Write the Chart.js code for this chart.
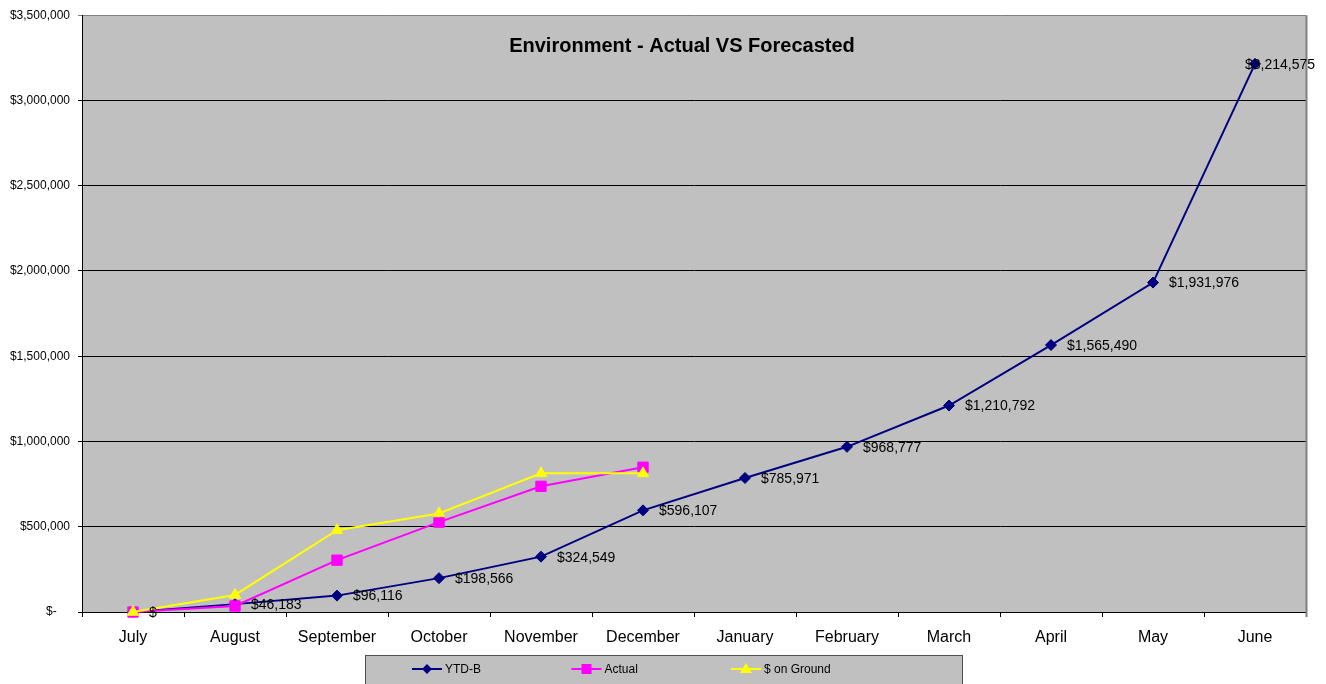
<!DOCTYPE html>
<html>
<head>
<meta charset="utf-8">
<title>Environment - Actual VS Forecasted</title>
<script src="https://cdn.jsdelivr.net/npm/chart.js@4/dist/chart.umd.min.js"></script>
<style>
  html, body { margin: 0; padding: 0; background: #ffffff; }
  #wrap { width: 1326px; height: 684px; position: relative; }
</style>
</head>
<body>
<div id="wrap"><canvas id="chart" width="1326" height="684"></canvas></div>
<script>
// Monthly categories (fiscal year July - June)
const months = ['July', 'August', 'September', 'October', 'November', 'December',
                'January', 'February', 'March', 'April', 'May', 'June'];

// Year-to-date budget (forecast)
const ytdB = [0, 46183, 96116, 198566, 324549, 596107, 785971, 968777,
              1210792, 1565490, 1931976, 3214575];

// Actual spend to date
const actual = [0, 35000, 304000, 527000, 737000, 849000,
                null, null, null, null, null, null];

// Dollars on the ground to date
const onGround = [0, 100000, 480000, 578000, 813000, 813000,
                  null, null, null, null, null, null];

const seriesNames = ['YTD-B', 'Actual', '$ on Ground'];
const yTickMax = 3500000;
const yTickStep = 500000;

const FONT = '"Liberation Sans", Arial, Helvetica, sans-serif';

function money(v) {
  return '$' + Math.round(v).toLocaleString('en-US');
}

// Grey plot background + right-hand frame edge
const plotFrame = {
  id: 'plotFrame',
  beforeDraw(chart) {
    const { ctx, chartArea: a } = chart;
    ctx.save();
    ctx.fillStyle = '#C0C0C0';
    ctx.fillRect(a.left, a.top, a.right - a.left, a.bottom - a.top);
    ctx.restore();
  },
  afterDatasetsDraw(chart) {
    const { ctx, chartArea: a } = chart;
    ctx.save();
    ctx.strokeStyle = '#808080';
    ctx.lineWidth = 2;
    ctx.beginPath();
    ctx.moveTo(a.right + 0.5, a.top);
    ctx.lineTo(a.right + 0.5, a.bottom + 5);
    ctx.stroke();
    ctx.restore();
  }
};

// Chart title sitting inside the plot area
const innerTitle = {
  id: 'innerTitle',
  afterDraw(chart) {
    const { ctx } = chart;
    ctx.save();
    ctx.font = 'bold 20px ' + FONT;
    ctx.fillStyle = '#000';
    ctx.textAlign = 'center';
    ctx.textBaseline = 'middle';
    ctx.fillText('Environment - Actual VS Forecasted', 682, 46);
    ctx.restore();
  }
};

// Value labels to the right of each YTD-B point
const ytdLabels = {
  id: 'ytdLabels',
  afterDatasetsDraw(chart) {
    const { ctx } = chart;
    const meta = chart.getDatasetMeta(0);
    const data = chart.data.datasets[0].data;
    ctx.save();
    ctx.font = '14px ' + FONT;
    ctx.fillStyle = '#000';
    ctx.textBaseline = 'middle';
    ctx.textAlign = 'left';
    meta.data.forEach((pt, i) => {
      const v = data[i];
      if (v == null) return;
      const txt = v === 0 ? '$' : money(v);
      const w = ctx.measureText(txt).width;
      let x = pt.x + 16;
      const maxRight = chart.width - 11;
      if (x + w > maxRight) x = maxRight - w;
      ctx.fillText(txt, x, pt.y + 1);
    });
    ctx.restore();
  }
};

// Framed legend strip below the axis
const boxLegend = {
  id: 'boxLegend',
  afterDraw(chart) {
    const { ctx } = chart;
    const bx = 365, by = 655, bw = 598, bh = 32;
    ctx.save();
    ctx.fillStyle = '#C0C0C0';
    ctx.fillRect(bx, by, bw, bh);
    ctx.strokeStyle = '#505050';
    ctx.lineWidth = 1;
    ctx.strokeRect(bx + 0.5, by + 0.5, bw - 1, bh - 1);
    const cy = 669;
    chart.data.datasets.forEach((ds, i) => {
      const x0 = bx + 47 + i * 159.5;
      ctx.strokeStyle = ds.borderColor;
      ctx.lineWidth = 2;
      ctx.beginPath();
      ctx.moveTo(x0, cy);
      ctx.lineTo(x0 + 30, cy);
      ctx.stroke();
      drawMarker(ctx, ds.pointStyle, x0 + 15, cy, ds.pointBackgroundColor);
      ctx.fillStyle = '#000';
      ctx.font = '12px ' + FONT;
      ctx.textAlign = 'left';
      ctx.textBaseline = 'middle';
      ctx.fillText(ds.label, x0 + 33, cy + 1);
    });
    ctx.restore();
  }
};

function drawMarker(ctx, style, x, y, color) {
  ctx.save();
  ctx.fillStyle = color;
  ctx.beginPath();
  if (style === 'rectRot') {
    ctx.moveTo(x, y - 5); ctx.lineTo(x + 5, y); ctx.lineTo(x, y + 5); ctx.lineTo(x - 5, y);
  } else if (style === 'rect') {
    ctx.rect(x - 5, y - 5, 10, 10);
  } else {
    ctx.moveTo(x, y - 6); ctx.lineTo(x + 6, y + 4); ctx.lineTo(x - 6, y + 4);
  }
  ctx.closePath();
  ctx.fill();
  ctx.restore();
}

const datasets = [
  { label: seriesNames[0], data: ytdB, borderColor: '#000080', backgroundColor: '#000080',
    pointStyle: 'rectRot', pointRadius: 5.5, pointBackgroundColor: '#000080',
    pointBorderColor: '#000080', order: 3 },
  { label: seriesNames[1], data: actual, borderColor: '#FF00FF', backgroundColor: '#FF00FF',
    pointStyle: 'rect', pointRadius: 7.3, pointBackgroundColor: '#FF00FF',
    pointBorderColor: '#FF00FF', order: 2 },
  { label: seriesNames[2], data: onGround, borderColor: '#FFFF00', backgroundColor: '#FFFF00',
    pointStyle: 'triangle', pointRadius: 6.5, pointBackgroundColor: '#FFFF00',
    pointBorderColor: '#FFFF00', order: 1 }
].map(d => Object.assign({ borderWidth: 2, pointBorderWidth: 1, tension: 0,
                           spanGaps: false, clip: false, pointHoverRadius: 6 }, d));

new Chart(document.getElementById('chart'), {
  type: 'line',
  data: { labels: months, datasets },
  options: {
    responsive: false,
    animation: false,
    devicePixelRatio: 1,
    layout: { padding: { top: 14, right: 20, left: 0, bottom: 0 } },
    plugins: {
      legend: { display: false },
      tooltip: { enabled: false },
      title: { display: false }
    },
    scales: {
      x: {
        type: 'category',
        offset: true,
        afterFit(scale) { scale.height = 72; },
        border: { display: true, color: '#000', width: 1 },
        grid: { drawOnChartArea: false, drawTicks: true, tickLength: 5,
                color: '#000', offset: true },
        ticks: { color: '#000', font: { family: FONT, size: 16 }, padding: 11,
                 maxRotation: 0, autoSkip: false }
      },
      y: {
        min: 0,
        max: yTickMax,
        afterFit(scale) { scale.width = 82; },
        border: { display: true, color: '#000', width: 1 },
        grid: {
          drawTicks: true, tickLength: 4,
          color: (c) => (c.tick && c.tick.value === yTickMax) ? '#808080' : '#000',
          lineWidth: 1
        },
        ticks: {
          stepSize: yTickStep,
          color: '#000',
          padding: 8,
          font: { family: FONT, size: 12 },
          callback: (v) => v === 0 ? '$-    ' : money(v)
        }
      }
    }
  },
  plugins: [plotFrame, ytdLabels, innerTitle, boxLegend]
});
</script>
</body>
</html>
